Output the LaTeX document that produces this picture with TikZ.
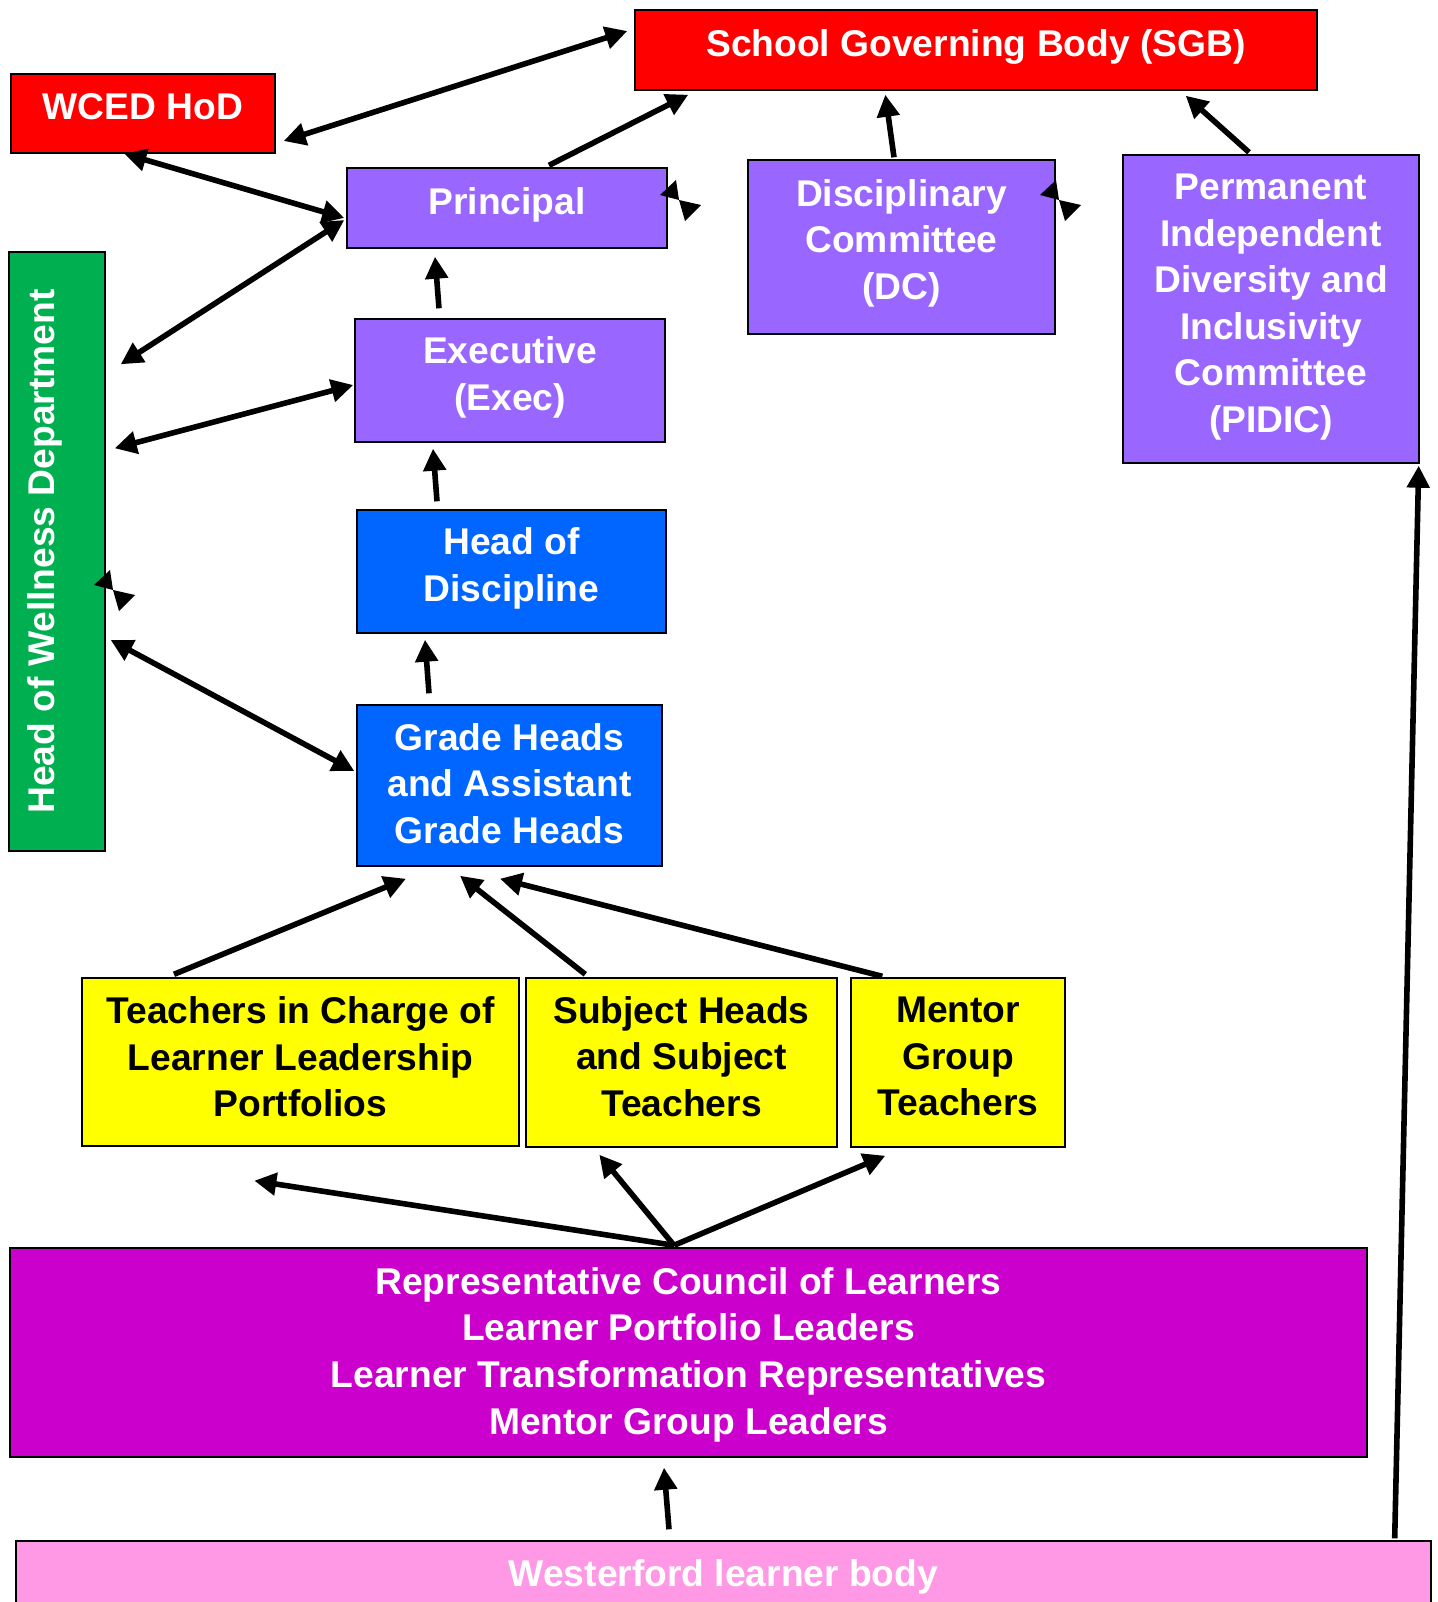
\documentclass[tikz,border=0pt]{standalone}
\usepackage{fontspec}
\setmainfont{Liberation Sans}
\usetikzlibrary{arrows.meta,calc}
\definecolor{cred}{HTML}{FF0000}
\definecolor{cpurple}{HTML}{9966FF}
\definecolor{cblue}{HTML}{0066FF}
\definecolor{cgreen}{HTML}{00B050}
\definecolor{cyellow}{HTML}{FFFF00}
\definecolor{cmagenta}{HTML}{CC00CC}
\definecolor{cpink}{HTML}{FF99E6}
\tikzset{
  box/.style={draw=black, line width=0.7pt, inner sep=0pt},
  txt/.style={inner sep=0pt, align=center, text=white,
    font=\fontsize{18.6}{23.3}\selectfont\bfseries},
  sz/.style 2 args={minimum width=#1*0.5pt, minimum height=#2*0.5pt},
  arr/.style={line width=2.8pt, -{Triangle[length=11pt,width=11pt]}},
  darr/.style={line width=2.8pt, {Triangle[length=11pt,width=11pt]}-{Triangle[length=11pt,width=11pt]}},
  bowtie/.pic={\fill (0,0) -- (-19,-5) -- (-3,-20) -- cycle; \fill (0,0) -- (22,5) -- (6,21) -- cycle;}
}
\begin{document}
\begin{tikzpicture}[x=0.5pt,y=-0.5pt]
\useasboundingbox (0,0) rectangle (1437,1602);
% boxes
\node[box, fill=cred, sz={682}{80}] (sgb) at (976,50) {};
\node[txt] (sgbt) at ($(sgb)+(0,-3)$) {School Governing Body (SGB)};
\node[box, fill=cred, sz={264}{79}] (wced) at (143,113.5) {};
\node[txt] (wcedt) at ($(wced)+(0,-7)$) {WCED HoD};
\node[box, fill=cpurple, sz={320}{80}] (principal) at (507,208) {};
\node[txt] (principalt) at ($(principal)+(0,-3)$) {Principal};
\node[box, fill=cpurple, sz={307}{174}] (dc) at (901.5,247) {};
\node[txt] (dct) at ($(dc)+(0,-4)$) {Disciplinary\\Committee\\(DC)};
\node[box, fill=cpurple, sz={296}{308}] (pidic) at (1271,309) {};
\node[txt] (pidict) at ($(pidic)+(0,-2)$) {Permanent\\Independent\\Diversity and\\Inclusivity\\Committee\\(PIDIC)};
\node[box, fill=cgreen, sz={96}{599}] (well) at (57,551.5) {};
\node[txt, rotate=90] (wellt) at (45,551.5) {Head of Wellness Department};
\node[box, fill=cpurple, sz={310}{123}] (exec) at (510,380.5) {};
\node[txt] (exect) at ($(exec)+(0,-3)$) {Executive\\(Exec)};
\node[box, fill=cblue, sz={309}{123}] (hod) at (511.5,571.5) {};
\node[txt] (hodt) at ($(hod)+(0,-3)$) {Head of\\Discipline};
\node[box, fill=cblue, sz={305}{161}] (gh) at (509.5,785.5) {};
\node[txt] (ght) at ($(gh)+(0,-2)$) {Grade Heads\\and Assistant\\Grade Heads};
\node[box, fill=cyellow, sz={437}{168}] (tic) at (300.5,1062) {};
\node[txt, text=black] (tict) at ($(tic)+(0,-5)$) {Teachers in Charge of\\Learner Leadership\\Portfolios};
\node[box, fill=cyellow, sz={311}{169}] (sub) at (681.5,1062.5) {};
\node[txt, text=black] (subt) at ($(sub)+(0,-6)$) {Subject Heads\\and Subject\\Teachers};
\node[box, fill=cyellow, sz={214}{169}] (men) at (958,1062.5) {};
\node[txt, text=black] (ment) at ($(men)+(0,-6)$) {Mentor\\Group\\Teachers};
\node[box, fill=cmagenta, sz={1357}{209}] (rcl) at (688.5,1352.5) {};
\node[txt] (rclt) at ($(rcl)+(0,2)$) {Representative Council of Learners\\Learner Portfolio Leaders\\Learner Transformation Representatives\\Mentor Group Leaders};
\node[box, fill=cpink, sz={1415}{66}] (wlb) at (723.5,1574) {};
\node[txt] (wlbt) at ($(wlb)+(0,3)$) {Westerford learner body};
% connectors
\draw[darr] ($(wced.east)+(8,27.5)$) -- ($(sgb.west)+(-7,-19)$);
\draw[arr] ($(principal.north)+(42,-2)$) -- ($(sgb.south west)+(54,4)$);
\draw[darr] ($(wced.south west)+(114,0)$) -- ($(principal.west)+(-2,10)$);
\draw[darr] ($(principal.west)+(-2,12)$) -- ($(well.north east)+(15,113)$);
\draw[arr] ($(dc.north)+(-7.5,-2)$) -- ($(sgb.south west)+(251,4)$);
\draw[arr] ($(pidic.north)+(-22,-2)$) -- ($(sgb.south east)+(-132,5)$);
\draw[arr] ($(exec.north)+(-71,-10)$) -- ($(principal.south)+(-72,8)$);
\draw[darr] ($(exec.west)+(-1,4.5)$) -- ($(well.north east)+(9,197)$);
\draw[arr] ($(hod.north)+(-74.5,-8)$) -- ($(exec.south)+(-77,6)$);
\draw[darr] ($(gh.west)+(-2,-14.5)$) -- ($(well.east)+(5,88.5)$);
\draw[arr] ($(gh.north)+(-80.5,-11)$) -- ($(hod.south)+(-86.5,6)$);
\draw[arr] ($(tic.north)+(-126.5,-3)$) -- ($(gh.south)+(-103.5,12)$);
\draw[arr] ($(sub.north west)+(60,-3)$) -- ($(gh.south)+(-49.5,9)$);
\draw[arr] ($(men.north west)+(32,-1)$) -- ($(gh.south)+(-9.5,12)$);
\draw[arr] ($(rcl.north)+(-14.5,-2)$) -- ($(tic.south west)+(173,34)$);
\draw[arr] ($(rcl.north)+(-14.5,-2)$) -- ($(sub.south west)+(74,7)$);
\draw[arr] ($(rcl.north)+(-14.5,-2)$) -- ($(men.south west)+(35,8)$);
\draw[arr] ($(wlb.north)+(-54.5,-11)$) -- ($(rcl.south)+(-24.5,10)$);
\draw[arr] ($(wlb.north east)+(-37,-2)$) -- ($(pidic.south east)+(-1,2)$);
% degenerate double arrows
\pic at (679,200) {bowtie};
\pic at (1059,200) {bowtie};
\pic at (113,590) {bowtie};
\end{tikzpicture}
\end{document}
